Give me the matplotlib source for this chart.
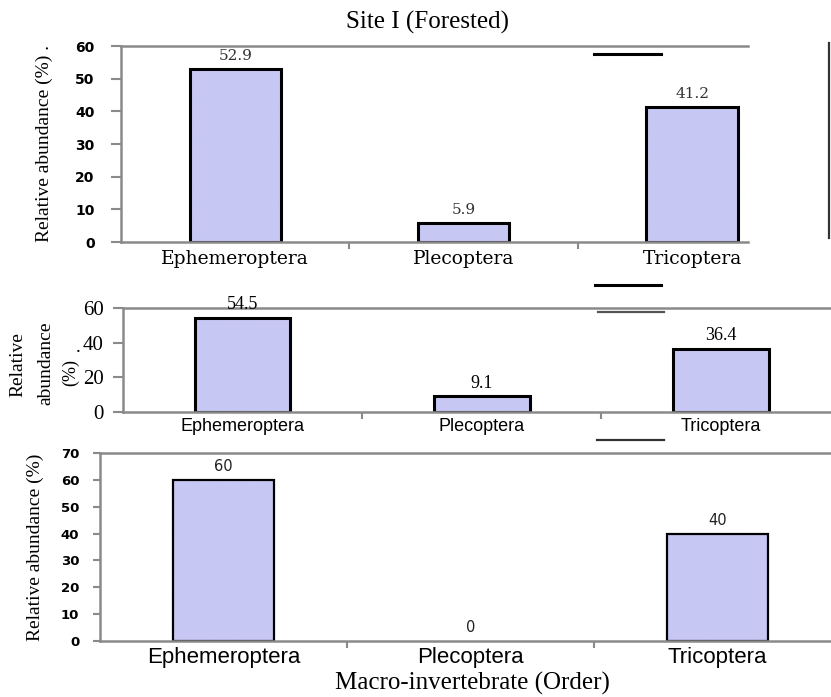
import matplotlib
matplotlib.use("Agg")
import matplotlib.pyplot as plt
from matplotlib.lines import Line2D
from matplotlib.patches import Rectangle

orders = ["Ephemeroptera", "Plecoptera", "Tricoptera"]
panel1_vals = [52.9, 5.9, 41.2]
panel2_vals = [54.5, 9.1, 36.4]
panel3_vals = [60, 0, 40]
panel1_labels = ["52.9", "5.9", "41.2"]
panel2_labels = ["54.5", "9.1", "36.4"]
panel3_labels = ["60", "0", "40"]

W, H = 831, 697
FILL = "#d3d3fb"
HATCH = "#c3c3f1"
AXC = "#8a8a8a"

plt.rcParams["hatch.linewidth"] = 0.5

fig = plt.figure(figsize=(W / 100, H / 100), dpi=100)


def px_axes(left, top, right, bottom):
    return fig.add_axes([left / W, 1 - bottom / H, (right - left) / W, (bottom - top) / H])


def fig_line(x0, y0, x1, y1, color="black", lw=2):
    fig.add_artist(Line2D([x0 / W, x1 / W], [1 - y0 / H, 1 - y1 / H],
                          transform=fig.transFigure, color=color, lw=lw, zorder=20))


def draw_panel(ax, vals, labels, ymax, ystep, width, xright, edge_lw,
               ytick_font, xtick_font, val_font, ytick_pad, ytick_len):
    x = list(range(len(vals)))
    ax.bar(x, vals, width=width, color=FILL, edgecolor=HATCH, hatch="/" * 24, lw=0)
    lws = [edge_lw if v > 0 else 0 for v in vals]
    ax.bar(x, vals, width=width, fill=False, edgecolor="black", lw=lws)
    for xi, v, lab in zip(x, vals, labels):
        ax.annotate(lab, (xi, v), xytext=(0, 9.5), textcoords="offset points",
                    ha="center", va="center", **val_font)
    ax.set_ylim(0, ymax)
    ax.set_xlim(-0.5, xright)
    ax.set_yticks(range(0, ymax + 1, ystep))
    ax.set_xticks(x)
    ax.set_xticklabels(orders, **xtick_font)
    ax.set_xticks([0.5, 1.5], minor=True)
    for lab in ax.get_yticklabels():
        lab.set(**ytick_font)
    ax.tick_params(axis="x", which="major", length=0, pad=6)
    ax.tick_params(axis="x", which="minor", length=5, color=AXC, width=1.5)
    ax.tick_params(axis="y", length=ytick_len, color=AXC, width=1.5, pad=ytick_pad)
    for s in ["left", "bottom", "top"]:
        ax.spines[s].set_color(AXC)
        ax.spines[s].set_linewidth(1.8)
    ax.spines["right"].set_visible(False)


# panel 1
ax1 = px_axes(121, 46, 748, 242)
draw_panel(ax1, panel1_vals, panel1_labels, 60, 10, 0.4, 2.245, 2.2,
           dict(family="DejaVu Sans", weight="bold", size=10),
           dict(family="DejaVu Serif", size=13.5),
           dict(family="DejaVu Serif", size=11, color="#333333"), 12, 7)
ax1.set_ylabel("Relative abundance (%) .", family="Liberation Serif", size=14, labelpad=16)

# panel 2
ax2 = px_axes(123, 308, 831, 412)
draw_panel(ax2, panel2_vals, panel2_labels, 60, 20, 0.4, 2.46, 2.2,
           dict(family="Liberation Serif", size=15),
           dict(family="Liberation Sans", size=13),
           dict(family="Liberation Serif", size=13), 7, 7)
ax2.tick_params(axis="x", which="major", pad=4)
fig.text(18 / W, 1 - 365 / H, "Relative", rotation=90, ha="center", va="center",
         family="Liberation Serif", size=14)
fig.text(46 / W, 1 - 363 / H, "abundance", rotation=90, ha="center", va="center",
         family="Liberation Serif", size=14)
fig.text(71 / W, 1 - 372 / H, "(%)", rotation=90, ha="center", va="center",
         family="Liberation Serif", size=13)
fig.text(78 / W, 1 - 348 / H, ".", ha="center", va="center",
         family="Liberation Serif", size=14)

# panel 3
ax3 = px_axes(100, 453, 831, 641)
draw_panel(ax3, panel3_vals, panel3_labels, 70, 10, 0.41, 2.46, 1.6,
           dict(family="DejaVu Sans", weight="bold", size=9.5),
           dict(family="Liberation Sans", size=16),
           dict(family="DejaVu Sans", size=10.5, color="#222222"), 10, 5)
ax3.tick_params(axis="x", which="major", pad=4)
ax3.set_ylabel("Relative abundance (%)", family="Liberation Serif", size=14, labelpad=12)

# panel 2 tick labels are cut off by the panel below
fig.add_artist(Rectangle((0, 1 - 446 / H), 1, 10 / H, transform=fig.transFigure,
                         facecolor="white", edgecolor="none", zorder=15))

fig.text(427 / W, 1 - 22 / H, "Site I (Forested)", ha="center", va="center",
         family="Liberation Serif", size=18)
fig.text(472 / W, 1 - 683 / H, "Macro-invertebrate (Order)", ha="center", va="center",
         family="Liberation Serif", size=18)

# stray lines from the source image
fig_line(594, 54, 661, 54, lw=2.2)
fig_line(829, 43, 829, 238, color="#333333", lw=1.6)
fig_line(595, 285, 661, 285, lw=2.2)
fig_line(598, 312, 664, 312, color="#555555", lw=1.6)
fig_line(597, 440, 664, 440, color="#333333", lw=1.6)

fig.savefig("out.png", dpi=100)
